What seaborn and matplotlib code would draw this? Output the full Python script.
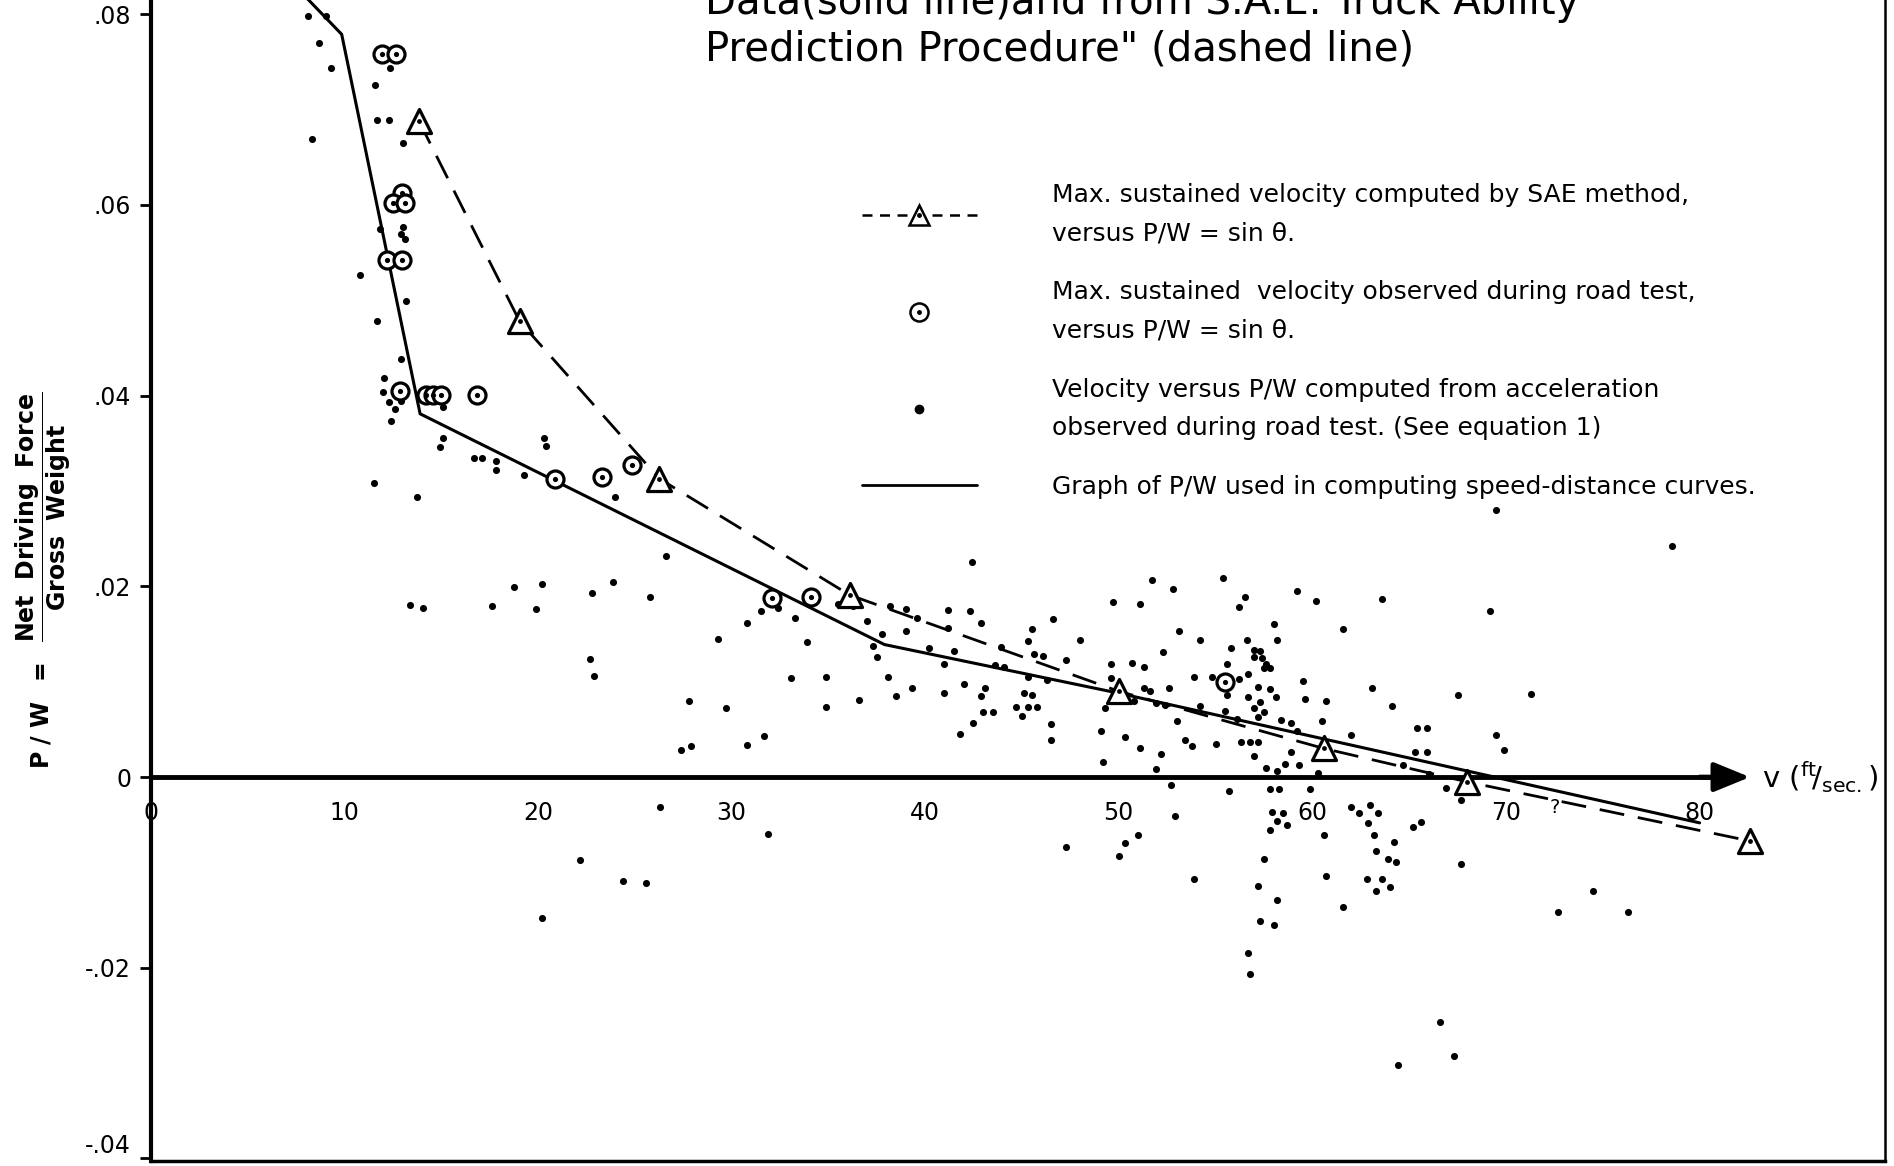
import matplotlib
matplotlib.use("Agg")
import matplotlib.pyplot as plt
import seaborn as sns
from matplotlib.lines import Line2D

sns.set_style("white")
plt.rcParams['font.family'] = ['DejaVu Sans']
plt.rcParams['mathtext.fontset'] = 'dejavusans'
plt.rcParams['text.color'] = 'black'
plt.rcParams['axes.labelcolor'] = 'black'
plt.rcParams['xtick.color'] = 'black'
plt.rcParams['ytick.color'] = 'black'

# --- graph of P/W used in computing speed-distance curves (solid) ---
solid_v = [7.5, 9.87, 13.92, 37.9, 50.0, 80.0]
solid_pw = [0.0829, 0.0779, 0.0381, 0.0139, 0.0088, -0.0048]

# --- max sustained velocity computed by SAE method (dashed, triangles) ---
sae_v = [13.86, 19.06, 26.27, 36.1, 50.0, 60.6, 68.0, 82.6]
sae_pw = [0.0688, 0.0478, 0.0313, 0.0191, 0.0090, 0.0030, -0.0005, -0.0067]

# --- max sustained velocity observed during road test (circles) ---
obs_v = [11.94, 12.66, 12.97, 12.54, 13.14, 12.19, 12.99, 12.88, 14.25, 14.6,
         15.0, 16.85, 20.9, 23.3, 24.85, 32.1, 34.1, 55.5]
obs_pw = [0.0758, 0.0758, 0.0613, 0.0602, 0.0602, 0.0542, 0.0542, 0.0405, 0.0401, 0.0401,
          0.0401, 0.0401, 0.0313, 0.0315, 0.0327, 0.0188, 0.0189, 0.0100]

# --- velocity vs P/W computed from acceleration (dots) ---
dot_v = [
    8.15, 9.06, 8.70, 9.34, 12.37, 11.59, 11.68, 12.31, 8.36, 13.06, 11.85, 13.06, 12.92, 13.16, 10.82, 13.19,
    11.71, 12.93, 12.04, 12.00, 12.93, 12.30, 12.60, 12.40, 15.12, 15.10, 14.93, 16.69, 17.13, 17.82, 17.82,
    19.27, 20.34, 20.42, 11.56, 13.74, 13.40, 14.05, 17.63, 18.75, 20.20, 19.90,
    24.0, 26.6, 22.8, 23.9, 25.8, 29.3, 22.7, 22.9, 27.8, 29.7, 27.4, 27.9, 26.3, 22.2, 24.4, 25.6, 20.2,
    42.4, 30.8, 31.5, 32.4, 33.3, 33.9, 35.5, 36.3, 37.0, 37.8, 37.3, 37.5, 38.2, 39.0, 39.6, 39.0, 40.2,
    41.2, 41.2, 42.3, 42.9, 41.5, 41.0, 43.9, 43.6, 33.1, 34.9, 34.9, 36.6, 38.1, 38.5, 39.3, 41.0, 42.0,
    43.1, 42.9, 43.0, 43.5, 42.5, 41.8, 31.7, 30.8, 31.9,
    51.7, 52.8, 55.4, 56.2, 49.7, 51.1, 46.6, 45.5, 45.3, 48.0, 53.1, 54.2, 55.8, 52.3, 45.6, 46.1, 47.3,
    49.6, 50.7, 51.3, 55.6, 44.1, 45.3, 46.3, 49.6, 53.9, 54.8, 56.2, 52.6, 51.3, 51.6, 45.1, 45.5, 55.6,
    44.7, 45.3, 45.8, 45.0, 49.3, 54.2, 55.5, 56.1, 53.0, 46.5, 46.5, 49.1, 50.3, 51.1, 52.2, 49.2, 51.9,
    53.4, 53.8, 55.0, 56.3, 50.8, 51.9, 52.4, 52.7, 55.7, 52.9, 51.0, 50.3, 50.0, 47.3, 53.9,
    69.5, 59.2, 60.2, 63.6, 69.2, 56.5, 58.0, 58.2, 61.6, 56.6, 57.0, 57.3, 57.0, 57.4, 57.6, 57.5, 57.8,
    56.7, 59.5, 57.2, 57.8, 58.1, 59.6, 60.7, 56.7, 57.3, 57.0, 57.5, 57.2, 63.1, 64.1, 67.5, 71.3, 60.5,
    58.4, 58.9, 59.2, 62.0, 69.5, 69.9, 65.4, 65.9, 65.3, 65.9, 56.8, 57.2, 57.0, 58.9, 58.6, 59.3, 57.6,
    58.2, 60.3, 64.7, 66.0, 66.9, 67.7, 57.8, 58.3, 59.9, 57.9, 58.5, 58.2, 57.8, 58.7, 62.0, 62.4, 63.0,
    63.4, 62.9, 63.2, 63.3, 60.6, 65.2, 65.6, 64.2, 63.9, 64.3, 57.5, 67.7, 60.7, 62.8, 63.6, 64.0, 63.3,
    57.2, 58.2, 61.6, 57.3, 58.0, 56.7, 56.8, 66.6, 67.3, 64.4, 72.7,
    78.6, 74.5, 76.3,
]
dot_pw = [
    0.0798, 0.0798, 0.0770, 0.0744, 0.0744, 0.0726, 0.0689, 0.0689, 0.0669, 0.0665, 0.0575, 0.0577, 0.0570,
    0.0564, 0.0527, 0.0499,
    0.0478, 0.0438, 0.0419, 0.0404, 0.0394, 0.0393, 0.0386, 0.0373, 0.0388, 0.0356, 0.0346, 0.0335, 0.0335,
    0.0331, 0.0322, 0.0317, 0.0356, 0.0347, 0.0308, 0.0294, 0.0181, 0.0177, 0.0179, 0.0199, 0.0202, 0.0176,
    0.0294, 0.0232, 0.0193, 0.0205, 0.0189, 0.0145, 0.0124, 0.0106, 0.0080, 0.0072, 0.0028, 0.0033, -0.0031,
    -0.0087, -0.0109, -0.0111, -0.0148,
    0.0226, 0.0162, 0.0174, 0.0177, 0.0167, 0.0142, 0.0182, 0.0179, 0.0164, 0.0150, 0.0138, 0.0126, 0.0179,
    0.0176, 0.0167, 0.0153, 0.0135, 0.0175, 0.0156, 0.0174, 0.0162, 0.0132, 0.0119, 0.0136, 0.0118, 0.0104,
    0.0105, 0.0073, 0.0081, 0.0105, 0.0085, 0.0093, 0.0088, 0.0098, 0.0093, 0.0085, 0.0068, 0.0068, 0.0057,
    0.0045, 0.0043, 0.0034, -0.0060,
    0.0207, 0.0197, 0.0209, 0.0178, 0.0184, 0.0182, 0.0166, 0.0155, 0.0143, 0.0144, 0.0153, 0.0144, 0.0135,
    0.0131, 0.0129, 0.0127, 0.0123, 0.0119, 0.0120, 0.0115, 0.0119, 0.0115, 0.0105, 0.0102, 0.0104, 0.0105,
    0.0105, 0.0103, 0.0093, 0.0093, 0.0090, 0.0088, 0.0086, 0.0086, 0.0073, 0.0073, 0.0073, 0.0064, 0.0072,
    0.0075, 0.0069, 0.0061, 0.0059, 0.0056, 0.0039, 0.0048, 0.0042, 0.0030, 0.0024, 0.0016, 0.0008, 0.0039,
    0.0033, 0.0035, 0.0037, 0.0080, 0.0078, 0.0076, -0.0008, -0.0015, -0.0041, -0.0061, -0.0069, -0.0083,
    -0.0073, -0.0107,
    0.0280, 0.0195, 0.0185, 0.0187, 0.0174, 0.0189, 0.0161, 0.0144, 0.0155, 0.0144, 0.0133, 0.0132, 0.0126,
    0.0125, 0.0119, 0.0114, 0.0114, 0.0108, 0.0101, 0.0094, 0.0092, 0.0084, 0.0082, 0.0080, 0.0084, 0.0079,
    0.0072, 0.0068, 0.0063, 0.0093, 0.0075, 0.0086, 0.0087, 0.0059, 0.0060, 0.0057, 0.0048, 0.0044, 0.0044,
    0.0028, 0.0051, 0.0052, 0.0026, 0.0026, 0.0037, 0.0037, 0.0022, 0.0026, 0.0014, 0.0013, 0.0010, 0.0006,
    0.0004, 0.0013, 0.0003, -0.0011, -0.0024, -0.0013, -0.0013, -0.0012, -0.0037, -0.0038, -0.0046, -0.0055,
    -0.0050, -0.0031, -0.0038, -0.0029, -0.0038, -0.0048, -0.0061, -0.0078, -0.0061, -0.0052, -0.0047,
    -0.0068, -0.0086, -0.0089, -0.0086, -0.0091, -0.0104, -0.0107, -0.0107, -0.0115, -0.0119, -0.0114,
    -0.0129, -0.0136, -0.0151, -0.0155, -0.0185, -0.0207, -0.0257, -0.0293, -0.0302, -0.0141,
    0.0242, -0.0119, -0.0142,
]

xtick_vals = [0, 10, 20, 30, 40, 50, 60, 70, 80]
ytick_vals = [-0.04, -0.02, 0, 0.02, 0.04, 0.06, 0.08]
ytick_labels = ['-.04', '-.02', '0', '.02', '.04', '.06', '.08']
AXIS_END = 82.6

title = 'Data(solid line)and from S.A.E. Truck Ability\nPrediction Procedure" (dashed line)'
legend_labels = [
    'Max. sustained velocity computed by SAE method,\nversus P/W = sin θ.',
    'Max. sustained  velocity observed during road test,\nversus P/W = sin θ.',
    'Velocity versus P/W computed from acceleration\nobserved during road test. (See equation 1)',
    'Graph of P/W used in computing speed-distance curves.',
]

fig = plt.figure(figsize=(18.94, 11.66), dpi=100)
pos = [0.0795, 0.004, 0.916, 0.996]
ax = fig.add_axes(pos)

sns.scatterplot(x=dot_v, y=dot_pw, ax=ax, color='black', s=26, linewidth=0, zorder=3)
sns.lineplot(x=solid_v, y=solid_pw, ax=ax, color='black', lw=2.2, sort=False, estimator=None, zorder=2)
sns.lineplot(x=sae_v, y=sae_pw, ax=ax, color='black', lw=2.0, sort=False, estimator=None,
             linestyle=(0, (9, 5)), zorder=2)
sns.scatterplot(x=sae_v, y=sae_pw, ax=ax, marker='^', s=300, color='white', edgecolor='black',
                linewidth=2.3, zorder=4)
sns.scatterplot(x=sae_v, y=sae_pw, ax=ax, color='black', s=12, linewidth=0, zorder=5)
sns.scatterplot(x=obs_v, y=obs_pw, ax=ax, marker='o', s=150, color='white', edgecolor='black',
                linewidth=2.3, zorder=4)
sns.scatterplot(x=obs_v, y=obs_pw, ax=ax, color='black', s=14, linewidth=0, zorder=5)

ax.set_xlim(0, 89.6)
ax.set_ylim(-0.0403, 0.0815)
ax.set_xticks(xtick_vals)
ax.set_xticklabels([str(t) for t in xtick_vals])
ax.set_yticks(ytick_vals)
ax.set_yticklabels(ytick_labels)
ax.get_yticklabels()[0].set_va('bottom')
ax.set_xlabel('')

# axes look: thick left spine, zero line with arrow
for side in ['top', 'right']:
    ax.spines[side].set_visible(False)
ax.spines['left'].set_linewidth(3)
ax.spines['left'].set_color('black')
ax.spines['bottom'].set_position(('data', 0))
ax.spines['bottom'].set_bounds(0, 81)
ax.spines['bottom'].set_linewidth(3.5)
ax.spines['bottom'].set_color('black')
ax.tick_params(axis='x', length=0, pad=17, labelsize=17)
ax.tick_params(axis='y', direction='out', length=8, width=2, pad=6, labelsize=17, left=True)
ax.annotate('', xy=(AXIS_END, 0), xytext=(80.0, 0),
            arrowprops=dict(arrowstyle='-|>,head_length=2.2,head_width=0.9', color='black', lw=3.5,
                            shrinkA=0, shrinkB=0), annotation_clip=False)
ax.text(83.2, 0, r'v $(^{\mathrm{ft}}\!/_{\mathrm{sec.}})$', fontsize=21, va='center', ha='left')
ax.text(72.5, -0.0032, '?', fontsize=14, ha='center', va='center')

ax.set_ylabel(r'$\mathbf{P\ /\ W\ \ =\ \ }\dfrac{\mathbf{Net\ \ Driving\ \ Force}}{\mathbf{Gross\ \ Weight}}$',
              fontsize=17)
ax.yaxis.set_label_coords(-0.062, 0.5)
ax.yaxis.label.set_va('center')

# outer frame (right and bottom border)
frame = fig.add_axes(pos, facecolor='none')
frame.set_xticks([])
frame.set_yticks([])
frame.spines['top'].set_visible(False)
frame.spines['left'].set_visible(False)
frame.spines['right'].set_linewidth(1.8)
frame.spines['bottom'].set_linewidth(2.5)
for s in ['right', 'bottom']:
    frame.spines[s].set_color('black')

fig.text(0.372, 0.948, title, fontsize=29, va='baseline', ha='left', linespacing=1.2)

dot_small = dict(ls='none', marker='o', ms=2.5, color='black')
handles = [
    (Line2D([], [], color='black', lw=1.8, ls=(0, (4, 3)), marker='^', ms=14, mfc='white',
            mec='black', mew=1.8), Line2D([], [], **dot_small)),
    (Line2D([], [], ls='none', marker='o', ms=13, mfc='white', mec='black', mew=1.8),
     Line2D([], [], **dot_small)),
    Line2D([], [], ls='none', marker='o', ms=6, color='black'),
    Line2D([], [], color='black', lw=2),
]
leg = ax.legend(handles, legend_labels, loc='upper left', bbox_to_anchor=(0.455, 0.843),
                bbox_transform=fig.transFigure, frameon=False, fontsize=18, handlelength=4.6,
                handletextpad=3.0, labelspacing=1.4, borderpad=0, borderaxespad=0, numpoints=1)
for t in leg.get_texts():
    t.set_linespacing(1.75)

fig.savefig('out.png', dpi=100)
